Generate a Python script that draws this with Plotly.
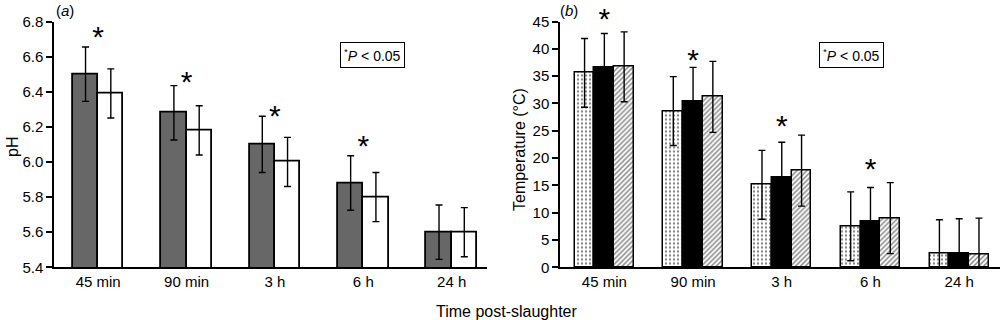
import plotly.graph_objects as go

# ---------------- data ----------------
times = ["45 min", "90 min", "3 h", "6 h", "24 h"]

ph_a = [6.50, 6.28, 6.10, 5.88, 5.60]
ph_a_err = [0.155, 0.155, 0.16, 0.155, 0.155]
ph_b = [6.39, 6.18, 6.00, 5.80, 5.60]
ph_b_err = [0.14, 0.14, 0.14, 0.14, 0.14]
ph_star_times = ["45 min", "90 min", "3 h", "6 h"]
ph_star_y = [6.70, 6.44, 6.245, 6.075]

temp_1 = [35.6, 28.6, 15.1, 7.5, 2.6]
temp_1_err = [6.3, 6.3, 6.3, 6.3, 6.1]
temp_2 = [36.5, 30.3, 16.5, 8.4, 2.6]
temp_2_err = [6.3, 6.3, 6.4, 6.2, 6.3]
temp_3 = [36.7, 31.2, 17.7, 9.0, 2.4]
temp_3_err = [6.4, 6.5, 6.5, 6.5, 6.6]
temp_star_times = ["45 min", "90 min", "3 h", "6 h"]
temp_star_y = [45.0, 37.5, 25.5, 17.5]

FONT = "Liberation Sans, Arial, Helvetica, sans-serif"

fig = go.Figure()


def ebar(err, vals, lo=0.0):
    return dict(type="data", symmetric=False, array=err,
                arrayminus=[min(e, v - lo) for e, v in zip(err, vals)],
                color="black", thickness=1.4, width=3.5)


# Panel (a)
wa = 0.286
fig.add_trace(go.Bar(x=times, y=ph_a, width=wa, offset=-wa,
                     marker=dict(color="#676767", line=dict(color="black", width=1.8)),
                     error_y=ebar(ph_a_err, ph_a, 5.4),
                     xaxis="x", yaxis="y", showlegend=False))
fig.add_trace(go.Bar(x=times, y=ph_b, width=wa, offset=0,
                     marker=dict(color="white", line=dict(color="black", width=1.8)),
                     error_y=ebar(ph_b_err, ph_b, 5.4),
                     xaxis="x", yaxis="y", showlegend=False))

# Panel (b)
wb = 0.223
fig.add_trace(go.Bar(x=times, y=temp_1, width=wb, offset=-1.5 * wb,
                     marker=dict(color="white", line=dict(color="black", width=1.5),
                                 pattern=dict(shape=".", fgcolor="black", bgcolor="white",
                                              size=4, solidity=0.25, fillmode="overlay")),
                     error_y=ebar(temp_1_err, temp_1),
                     xaxis="x2", yaxis="y2", showlegend=False))
fig.add_trace(go.Bar(x=times, y=temp_2, width=wb, offset=-0.5 * wb,
                     marker=dict(color="black", line=dict(color="black", width=1.5)),
                     error_y=ebar(temp_2_err, temp_2),
                     xaxis="x2", yaxis="y2", showlegend=False))
fig.add_trace(go.Bar(x=times, y=temp_3, width=wb, offset=0.5 * wb,
                     marker=dict(color="white", line=dict(color="black", width=1.5),
                                 pattern=dict(shape="/", fgcolor="black", bgcolor="white",
                                              size=3.5, solidity=0.4, fillmode="overlay")),
                     error_y=ebar(temp_3_err, temp_3),
                     xaxis="x2", yaxis="y2", showlegend=False))

# significance stars (text marks placed through the axes)
star_font = dict(family=FONT, size=30, color="black")
fig.add_trace(go.Scatter(x=ph_star_times, y=ph_star_y, mode="text", text=["*"] * len(ph_star_y),
                         textposition="middle center", textfont=star_font, cliponaxis=False,
                         hoverinfo="skip", xaxis="x", yaxis="y", showlegend=False))
fig.add_trace(go.Scatter(x=temp_star_times, y=temp_star_y, mode="text", text=["*"] * len(temp_star_y),
                         textposition="middle center", textfont=star_font, cliponaxis=False,
                         hoverinfo="skip", xaxis="x2", yaxis="y2", showlegend=False))

annotations = []
# significance boxes
for xc in (0.372, 0.851):
    annotations.append(dict(x=xc, y=1 - 54.7 / 320, xref="paper", yref="paper",
                            xanchor="center", yanchor="middle",
                            text="<sup>*</sup><i>P</i> < 0.05", showarrow=False,
                            bordercolor="black", borderwidth=1, borderpad=3,
                            font=dict(family=FONT, size=14, color="black")))

# panel labels
annotations.append(dict(x=0.054, y=1 - 10 / 320, xref="paper", yref="paper",
                        xanchor="left", yanchor="middle",
                        text="(<i>a</i>)", showarrow=False,
                        font=dict(family=FONT, size=15, color="black")))
annotations.append(dict(x=0.558, y=1 - 10 / 320, xref="paper", yref="paper",
                        xanchor="left", yanchor="middle",
                        text="(<i>b</i>)", showarrow=False,
                        font=dict(family=FONT, size=15, color="black")))

# shared x title
annotations.append(dict(x=0.506, y=1 - 311 / 320, xref="paper", yref="paper",
                        xanchor="center", yanchor="middle",
                        text="Time post-slaughter", showarrow=False,
                        font=dict(family=FONT, size=16, color="black")))

# y titles
annotations.append(dict(x=0.012, y=1 - 147 / 320, xref="paper", yref="paper",
                        xanchor="center", yanchor="middle",
                        text="pH", textangle=-90, showarrow=False,
                        font=dict(family=FONT, size=16, color="black")))
annotations.append(dict(x=0.519, y=1 - 150 / 320, xref="paper", yref="paper",
                        xanchor="center", yanchor="middle",
                        text="Temperature (°C)", textangle=-90, showarrow=False,
                        font=dict(family=FONT, size=16, color="black")))

ydom = [1 - 267.3 / 320, 1 - 21.5 / 320]
axis_font = dict(family=FONT, size=15, color="black")
xcommon = dict(type="category", showline=True, linecolor="black", linewidth=1.5,
               ticks="", showgrid=False, zeroline=False, tickfont=axis_font,
               automargin=False)
ycommon = dict(showline=True, linecolor="black", linewidth=1.5, ticks="outside",
               ticklen=6, tickwidth=1.5, tickcolor="black", showgrid=False,
               zeroline=False, tickfont=axis_font, automargin=False)

fig.update_layout(
    template="none",
    width=1000, height=320,
    margin=dict(l=0, r=0, t=0, b=0, pad=0),
    paper_bgcolor="white", plot_bgcolor="white",
    font=dict(family=FONT, color="black"),
    xaxis=dict(xcommon, domain=[0.054, 0.487], range=[-0.5, 4.4], anchor="y"),
    yaxis=dict(ycommon, domain=ydom, range=[5.4, 6.8], tickvals=[5.4, 5.6, 5.8, 6.0, 6.2, 6.4, 6.6, 6.8],
               ticktext=["5.4", "5.6", "5.8", "6.0", "6.2", "6.4", "6.6", "6.8"], anchor="x"),
    xaxis2=dict(xcommon, domain=[0.560, 1.0], range=[-0.5, 4.46], anchor="y2"),
    yaxis2=dict(ycommon, domain=ydom, range=[0, 45], dtick=5, anchor="x2"),
    annotations=annotations,
    bargap=0, barmode="overlay",
    showlegend=False,
)

fig.write_html("out.html", config={"displayModeBar": False},
               post_script="document.body.style.margin='0px';document.body.style.overflow='hidden';")
